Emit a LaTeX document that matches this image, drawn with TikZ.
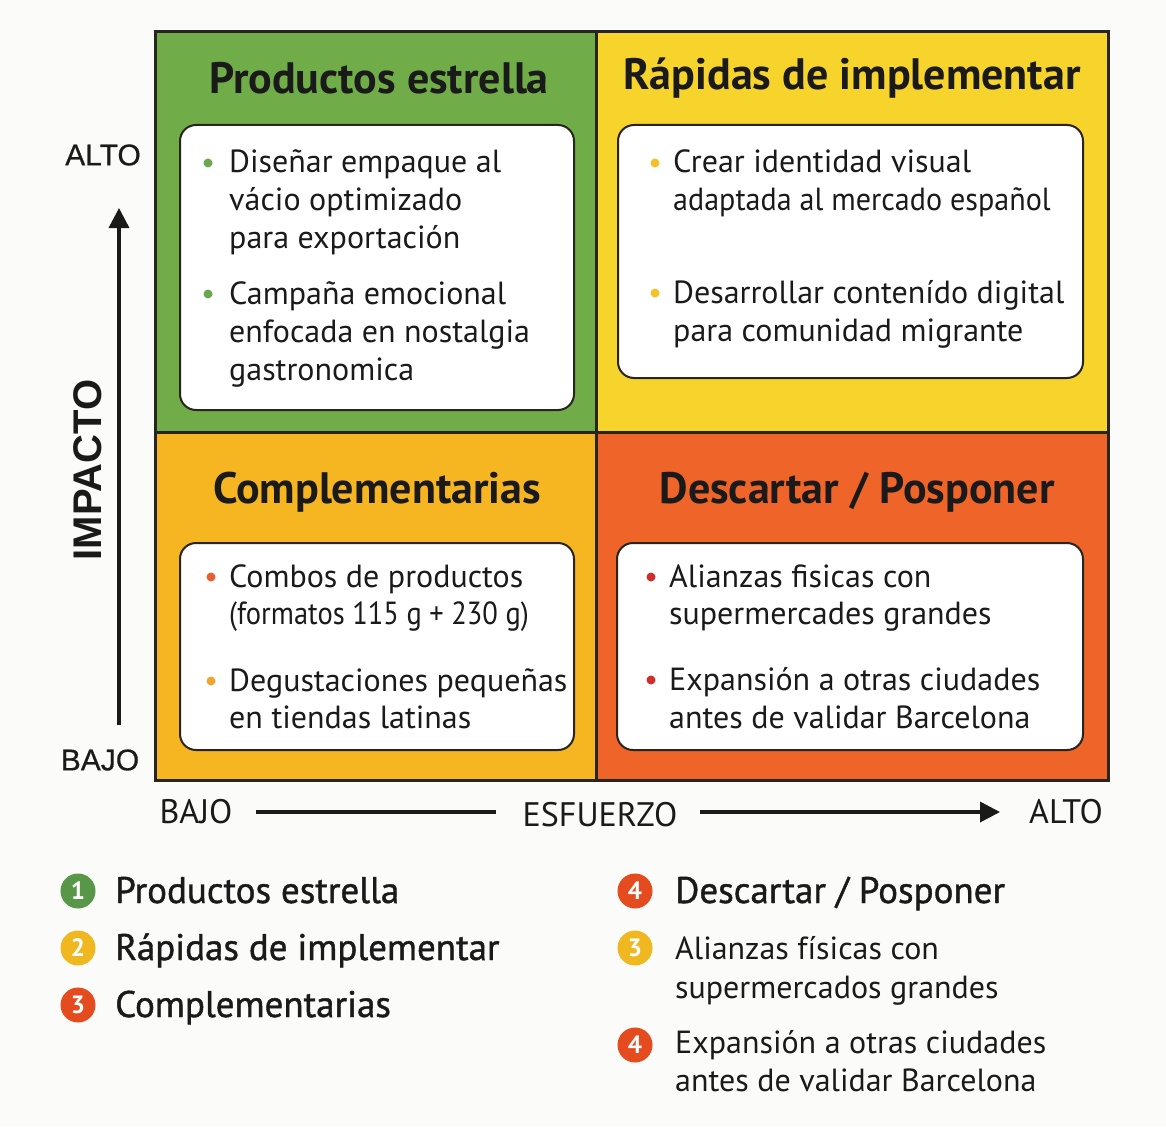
\documentclass[tikz,border=0pt]{standalone}
\usepackage{fontspec}
\setmainfont{PT Sans}
\newfontfamily\axisfnt[FakeBold=0.5]{Liberation Sans}
\newfontfamily\axisbfnt{Liberation Sans}
\newfontfamily\medfnt[FakeBold=1.1]{PT Sans}
\newfontfamily\condfnt[FakeStretch=0.94]{PT Sans}
\newfontfamily\condbfnt[FakeStretch=0.89]{PT Sans}
\usetikzlibrary{arrows.meta}
\definecolor{bg}{RGB}{251,251,249}
\definecolor{ink}{RGB}{26,26,26}
\definecolor{edge}{RGB}{40,36,30}
\definecolor{qgreen}{RGB}{112,173,72}
\definecolor{qyellow}{RGB}{247,212,44}
\definecolor{qamber}{RGB}{246,182,34}
\definecolor{qorange}{RGB}{239,100,40}
\definecolor{dgreen}{RGB}{106,168,79}
\definecolor{dyellow}{RGB}{242,194,40}
\definecolor{dorange}{RGB}{232,96,50}
\definecolor{damber}{RGB}{240,165,50}
\definecolor{dred}{RGB}{210,45,45}
\definecolor{cgreen}{RGB}{88,150,72}
\definecolor{cyellow}{RGB}{240,184,32}
\definecolor{cred}{RGB}{228,76,32}
\newcommand\qttlfnt{\fontsize{44}{52}\selectfont\bfseries}
\newcommand\qbodyfnt{\fontsize{32}{38}\selectfont}
\newcommand\qlegfnt{\fontsize{32}{38}\selectfont}
\newcommand\qlegmed{\fontsize{37}{42}\selectfont\medfnt}
\newcommand\qaxfnt{\fontsize{30}{36}\selectfont\axisfnt}
\newcommand\qaxbold{\fontsize{40}{48}\selectfont\axisbfnt\bfseries}
\newcommand\qbotfnt{\fontsize{34}{40}\selectfont}
\newcommand\qnumfnt{\fontsize{25}{28}\selectfont\bfseries}
\tikzset{
  quad/.style={draw=edge, line width=3pt, inner sep=0pt, outer sep=0pt},
  wbox/.style={draw=edge, line width=2pt, fill=white, rounded corners=16pt, inner sep=0pt, outer sep=0pt},
  ttl/.style={font=\qttlfnt, text=ink, inner sep=0pt},
  itm/.style={anchor=base west, font=\qbodyfnt, text=ink, inner sep=0pt},
  bdot/.style={circle, inner sep=0pt, minimum size=9pt},
  lgc/.style={circle, inner sep=0pt, minimum size=35pt, text=white, font=\qnumfnt},
  lgt/.style={anchor=base west, font=\qlegfnt, text=ink, inner sep=0pt},
  lgm/.style={anchor=base west, font=\qlegmed, text=ink, inner sep=0pt},
  axl/.style={font=\qaxfnt, text=ink, inner sep=0pt},
  botl/.style={font=\qbotfnt, text=ink, inner sep=0pt},
  axarrow/.style={draw=ink, line width=3.5pt, -{Triangle[length=20pt,width=20pt]}},
  axline/.style={draw=ink, line width=3.5pt},
}
\begin{document}
\begin{tikzpicture}[x=1pt,y=-1pt]
\useasboundingbox[fill=bg] (0,0) rectangle (1166,1126);

% quadrants
\node[quad, fill=qgreen, minimum width=441pt, minimum height=400pt] (q1) at (375.5,232) {};
\node[quad, fill=qyellow, minimum width=512pt, minimum height=400pt] (q2) at (852,232) {};
\node[quad, fill=qamber, minimum width=441pt, minimum height=348pt] (q3) at (375.5,606) {};
\node[quad, fill=qorange, minimum width=512pt, minimum height=348pt] (q4) at (852,606) {};

% titles
\node[ttl] (t1) at (379,78) {Productos estrella};
\node[ttl] (t2) at (852,78) {Rápidas de implementar};
\node[ttl] (t3) at (377,492) {Complementarias};
\node[ttl] (t4) at (857,492) {Descartar / Posponer};

% white boxes
\node[wbox, minimum width=394pt, minimum height=285pt] (b1) at (377,267.5) {};
\node[wbox, minimum width=465pt, minimum height=253pt] (b2) at (850.5,251.5) {};
\node[wbox, minimum width=394pt, minimum height=207pt] (b3) at (377,646.5) {};
\node[wbox, minimum width=466pt, minimum height=207pt] (b4) at (850,646.5) {};

% box 1
\node[bdot, fill=dgreen] (d1a) at (208,163) {};
\node[itm] (l1a) at (229,173) {Diseñar empaque al};
\node[itm] (l1b) at (229,211) {vácio optimizado};
\node[itm] (l1c) at (229,248) {para exportación};
\node[bdot, fill=dgreen] (d1b) at (208,294) {};
\node[itm] (l1d) at (229,304) {Campaña emocional};
\node[itm] (l1e) at (229,342) {enfocada en nostalgia};
\node[itm] (l1f) at (229,380) {gastronomica};

% box 2
\node[bdot, fill=dyellow] (d2a) at (655,163) {};
\node[itm] (l2a) at (673,173) {Crear identidad visual};
\node[itm, font=\qbodyfnt\condfnt] (l2b) at (673,210) {adaptada al mercado español};
\node[bdot, fill=dyellow] (d2b) at (655,293) {};
\node[itm] (l2c) at (673,303) {Desarrollar contenído digital};
\node[itm] (l2d) at (673,341) {para comunidad migrante};

% box 3
\node[bdot, fill=dorange] (d3a) at (211,577) {};
\node[itm] (l3a) at (229,587) {Combos de productos};
\node[itm, font=\qbodyfnt\condbfnt] (l3b) at (229,624) {(formatos 115 g + 230 g)};
\node[bdot, fill=damber] (d3b) at (211,681) {};
\node[itm] (l3c) at (229,691) {Degustaciones pequeñas};
\node[itm] (l3d) at (229,728) {en tiendas latinas};

% box 4
\node[bdot, fill=dred] (d4a) at (651,577) {};
\node[itm] (l4a) at (669,587) {Alianzas fisicas con};
\node[itm] (l4b) at (669,624) {supermercades grandes};
\node[bdot, fill=dred] (d4b) at (651,680) {};
\node[itm] (l4c) at (669,690) {Expansión a otras ciudades};
\node[itm] (l4d) at (669,728) {antes de validar Barcelona};

% vertical axis
\node[axl] (valto) at (103,155) {ALTO};
\node[axl] (vbajo) at (100,760) {BAJO};
\node[font=\qaxbold, text=ink, inner sep=0pt, rotate=90] (imp) at (88,470) {IMPACTO};
\coordinate (vs) at (119,725);
\coordinate (ve) at (119,208);
\draw[axarrow] (vs) -- (ve);

% horizontal axis
\node[botl] (hbajo) at (196,812) {BAJO};
\node[botl] (hesf) at (600,815) {ESFUERZO};
\node[botl] (halto) at (1066,812) {ALTO};
\coordinate (h1s) at (256,812);
\coordinate (h1e) at (496,812);
\coordinate (h2s) at (700,812);
\coordinate (h2e) at (1000,812);
\draw[axline] (h1s) -- (h1e);
\draw[axarrow] (h2s) -- (h2e);

% legend left
\node[lgc, fill=cgreen] (c1) at (78,891) {1};
\node[lgm] (g1) at (115,903) {Productos estrella};
\node[lgc, fill=cyellow] (c2) at (78,948) {2};
\node[lgm] (g2) at (115,960) {Rápidas de implementar};
\node[lgc, fill=cred] (c3) at (78,1005) {3};
\node[lgm] (g3) at (115,1017) {Complementarias};

% legend right
\node[lgc, fill=cred] (c4) at (635,891) {4};
\node[lgm] (g4) at (675,903) {Descartar / Posponer};
\node[lgc, fill=cyellow] (c5) at (635,948) {3};
\node[lgt] (g5a) at (675,959) {Alianzas físicas con};
\node[lgt] (g5b) at (675,998) {supermercados grandes};
\node[lgc, fill=cred] (c6) at (635,1045) {4};
\node[lgt] (g6a) at (675,1053) {Expansión a otras ciudades};
\node[lgt] (g6b) at (675,1091) {antes de validar Barcelona};
\end{tikzpicture}
\end{document}
